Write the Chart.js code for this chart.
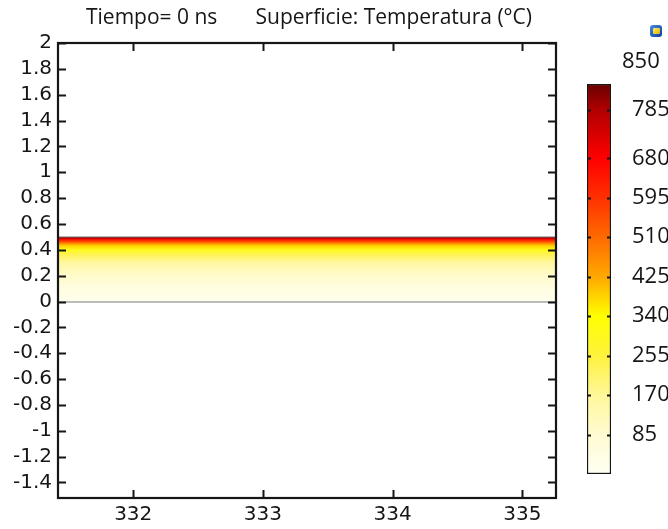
<!DOCTYPE html>
<html>
<head>
<meta charset="utf-8">
<script src="https://cdn.jsdelivr.net/npm/chart.js@4.4.1/dist/chart.umd.min.js"></script>
<style>
  html, body { margin: 0; padding: 0; background: #fff; }
  #wrap { position: relative; width: 668px; height: 529px; overflow: hidden; }
  #main { position: absolute; left: 0; top: 0; }
  #bar  { position: absolute; left: 560px; top: 0; }
  #logo { position: absolute; left: 650px; top: 25px; width: 12px; height: 12px; border-radius: 3px;
          background: linear-gradient(135deg, #4a8ae6, #0b3f9c); }
  #logo span { position: absolute; left: 3px; top: 3px; width: 7px; height: 6px; border-radius: 1px;
          background: linear-gradient(135deg, #fff36a, #e0b000); }
</style>
</head>
<body>
<div id="wrap">
  <canvas id="main" width="668" height="529"></canvas>
  <canvas id="bar" width="108" height="529"></canvas>
  <div id="logo"><span></span></div>
</div>
<script>
// ── datos ─────────────────────────────────────────
const titleText = "Tiempo= 0 ns       Superficie: Temperatura (°C)";
const xRange = [331.42, 335.26];
const yRange = [-1.52, 2];
const xTicks = [332, 333, 334, 335];
const yTicks = [-1.4, -1.2, -1, -0.8, -0.6, -0.4, -0.2, 0, 0.2, 0.4, 0.6, 0.8, 1, 1.2, 1.4, 1.6, 1.8, 2];

// capa calentada: superficie en y = 0.5, base en y = 0
const layerTop = 0.5;
const layerBottom = 0;
// perfil de temperatura dentro de la capa (posición y → °C)
const profileY = [0, 0.1, 0.2, 0.3, 0.36, 0.4, 0.43, 0.45, 0.47, 0.485, 0.5];
const profileT = [15, 45, 95, 160, 230, 300, 380, 470, 590, 700, 850];

// barra de colores
const cbMax = 840;
const cbTicks = [85, 170, 255, 340, 425, 510, 595, 680, 785];
const cbTopLabel = "850";
const cmapT = [0, 85, 170, 255, 340, 425, 510, 595, 680, 785, 850];
const cmapC = ["#fffff2", "#fffbd2", "#fff79a", "#fff23c", "#ffff00", "#ffa800", "#ff6a00",
               "#ff3000", "#ff0000", "#b00000", "#5c0000"];

// ── escala de color ───────────────────────────────
function hexToRgb(h) {
  return [parseInt(h.slice(1, 3), 16), parseInt(h.slice(3, 5), 16), parseInt(h.slice(5, 7), 16)];
}
function tempToColor(t) {
  if (t <= cmapT[0]) return cmapC[0];
  for (let i = 1; i < cmapT.length; i++) {
    if (t <= cmapT[i]) {
      const f = (t - cmapT[i - 1]) / (cmapT[i] - cmapT[i - 1]);
      const a = hexToRgb(cmapC[i - 1]), b = hexToRgb(cmapC[i]);
      const c = a.map((v, k) => Math.round(v + (b[k] - v) * f));
      return `rgb(${c[0]},${c[1]},${c[2]})`;
    }
  }
  return cmapC[cmapC.length - 1];
}

const INK = "#161616";

// marco + marcas hacia dentro (estilo COMSOL)
const framePlugin = {
  id: "frame",
  afterDatasetsDraw(chart) {
    const { ctx, chartArea: a, scales: { x, y } } = chart;
    ctx.save();
    ctx.strokeStyle = INK;
    ctx.lineWidth = 2;
    ctx.beginPath();
    yTicks.forEach(v => {
      const p = Math.round(y.getPixelForValue(v)) + 0.5;
      ctx.moveTo(a.left, p); ctx.lineTo(a.left + 8, p);
      ctx.moveTo(a.right, p); ctx.lineTo(a.right - 8, p);
    });
    xTicks.forEach(v => {
      const p = Math.round(x.getPixelForValue(v)) + 0.5;
      ctx.moveTo(p, a.bottom); ctx.lineTo(p, a.bottom - 8);
      ctx.moveTo(p, a.top); ctx.lineTo(p, a.top + 8);
    });
    ctx.stroke();
    ctx.lineWidth = 2.2;
    ctx.strokeRect(a.left, a.top, a.right - a.left, a.bottom - a.top);
    ctx.restore();
  },
};

// ── gráfico principal ─────────────────────────────
new Chart(document.getElementById("main"), {
  type: "line",
  data: {
    datasets: [
      {
        data: xRange.map(x => ({ x, y: layerTop })),
        fill: "origin",
        borderColor: "#8a8a8a",
        borderWidth: 1,
        pointRadius: 0,
        backgroundColor(c) {
          const chart = c.chart;
          if (!chart.chartArea) return "rgba(0,0,0,0)";
          const ys = chart.scales.y;
          const top = ys.getPixelForValue(layerTop);
          const bot = ys.getPixelForValue(layerBottom);
          const g = chart.ctx.createLinearGradient(0, bot, 0, top);
          profileY.forEach((v, i) => {
            g.addColorStop((v - layerBottom) / (layerTop - layerBottom), tempToColor(profileT[i]));
          });
          return g;
        },
      },
      {
        data: xRange.map(x => ({ x, y: layerBottom })),
        fill: false,
        borderColor: "#7a7a7a",
        borderWidth: 2,
        pointRadius: 0,
      },
    ],
  },
  options: {
    responsive: false,
    animation: false,
    // el título queda centrado sobre 0..618, como en la figura original
    layout: { padding: { left: 0, right: 50, top: 0, bottom: 0 } },
    plugins: {
      legend: { display: false },
      tooltip: { enabled: false },
      title: {
        display: true,
        text: titleText,
        color: INK,
        font: { family: "Open Sans", size: 21, weight: "normal" },
        padding: { top: 5, bottom: 12.8 },
      },
    },
    scales: {
      x: {
        type: "linear",
        min: xRange[0],
        max: xRange[1],
        afterBuildTicks(s) { s.ticks = xTicks.map(value => ({ value })); },
        afterFit(s) { s.height = 31; },
        grid: { display: false, drawTicks: false },
        border: { display: false },
        ticks: {
          padding: 5,
          color: INK,
          maxRotation: 0,
          autoSkip: false,
          font: { family: "DejaVu Sans", size: 20 },
          callback: v => String(v),
        },
      },
      y: {
        type: "linear",
        min: yRange[0],
        max: yRange[1],
        afterBuildTicks(s) { s.ticks = yTicks.map(value => ({ value })); },
        afterFit(s) { s.width = 58; },
        grid: { display: false, drawTicks: false },
        border: { display: false },
        ticks: {
          padding: 6,
          color: INK,
          autoSkip: false,
          font: { family: "DejaVu Sans", size: 20 },
          callback: v => String(+Number(v).toFixed(1)),
        },
      },
      // reserva el hueco de la barra de colores
      yPad: {
        position: "right",
        display: true,
        afterFit(s) { s.width = 62; },
        grid: { display: false, drawTicks: false },
        border: { display: false },
        ticks: { display: false },
      },
    },
  },
  plugins: [framePlugin],
});

// ── barra de colores ──────────────────────────────
const cbTickPlugin = {
  id: "cbTicks",
  afterDatasetsDraw(chart) {
    const { ctx, chartArea: a, scales: { y } } = chart;
    ctx.save();
    ctx.strokeStyle = INK;
    ctx.lineWidth = 2;
    ctx.beginPath();
    cbTicks.forEach(v => {
      const p = Math.round(y.getPixelForValue(v)) + 0.5;
      ctx.moveTo(a.left, p); ctx.lineTo(a.left + 4, p);
      ctx.moveTo(a.right, p); ctx.lineTo(a.right - 4, p);
    });
    ctx.stroke();
    // etiqueta del máximo, encima de la barra
    ctx.fillStyle = INK;
    ctx.font = "22px 'Open Sans'";
    ctx.textAlign = "left";
    ctx.textBaseline = "middle";
    ctx.fillText(cbTopLabel, a.right + 11, a.top - 22);
    ctx.restore();
  },
};

new Chart(document.getElementById("bar"), {
  type: "bar",
  data: {
    labels: [""],
    datasets: [{
      data: [[0, cbMax]],
      borderColor: INK,
      borderWidth: 1.5,
      borderSkipped: false,
      barPercentage: 1,
      categoryPercentage: 1,
      backgroundColor(c) {
        const chart = c.chart;
        if (!chart.chartArea) return "rgba(0,0,0,0)";
        const ys = chart.scales.y;
        const bot = ys.getPixelForValue(0);
        const top = ys.getPixelForValue(cbMax);
        const g = chart.ctx.createLinearGradient(0, bot, 0, top);
        cmapT.forEach((t, i) => {
          if (t <= cbMax) g.addColorStop(t / cbMax, cmapC[i]);
        });
        g.addColorStop(1, tempToColor(cbMax));
        return g;
      },
    }],
  },
  options: {
    responsive: false,
    animation: false,
    layout: { padding: { left: 27, right: 0, top: 84, bottom: 55 } },
    plugins: {
      legend: { display: false },
      tooltip: { enabled: false },
    },
    scales: {
      x: { display: false },
      y: {
        position: "right",
        min: 0,
        max: cbMax,
        afterBuildTicks(s) { s.ticks = cbTicks.map(value => ({ value })); },
        afterFit(s) { s.width = 57; },
        grid: { display: false, drawTicks: false },
        border: { display: false },
        ticks: {
          padding: 21,
          color: INK,
          autoSkip: false,
          font: { family: "Open Sans", size: 22 },
          callback: v => String(v),
        },
      },
    },
  },
  plugins: [cbTickPlugin],
});
</script>
</body>
</html>
